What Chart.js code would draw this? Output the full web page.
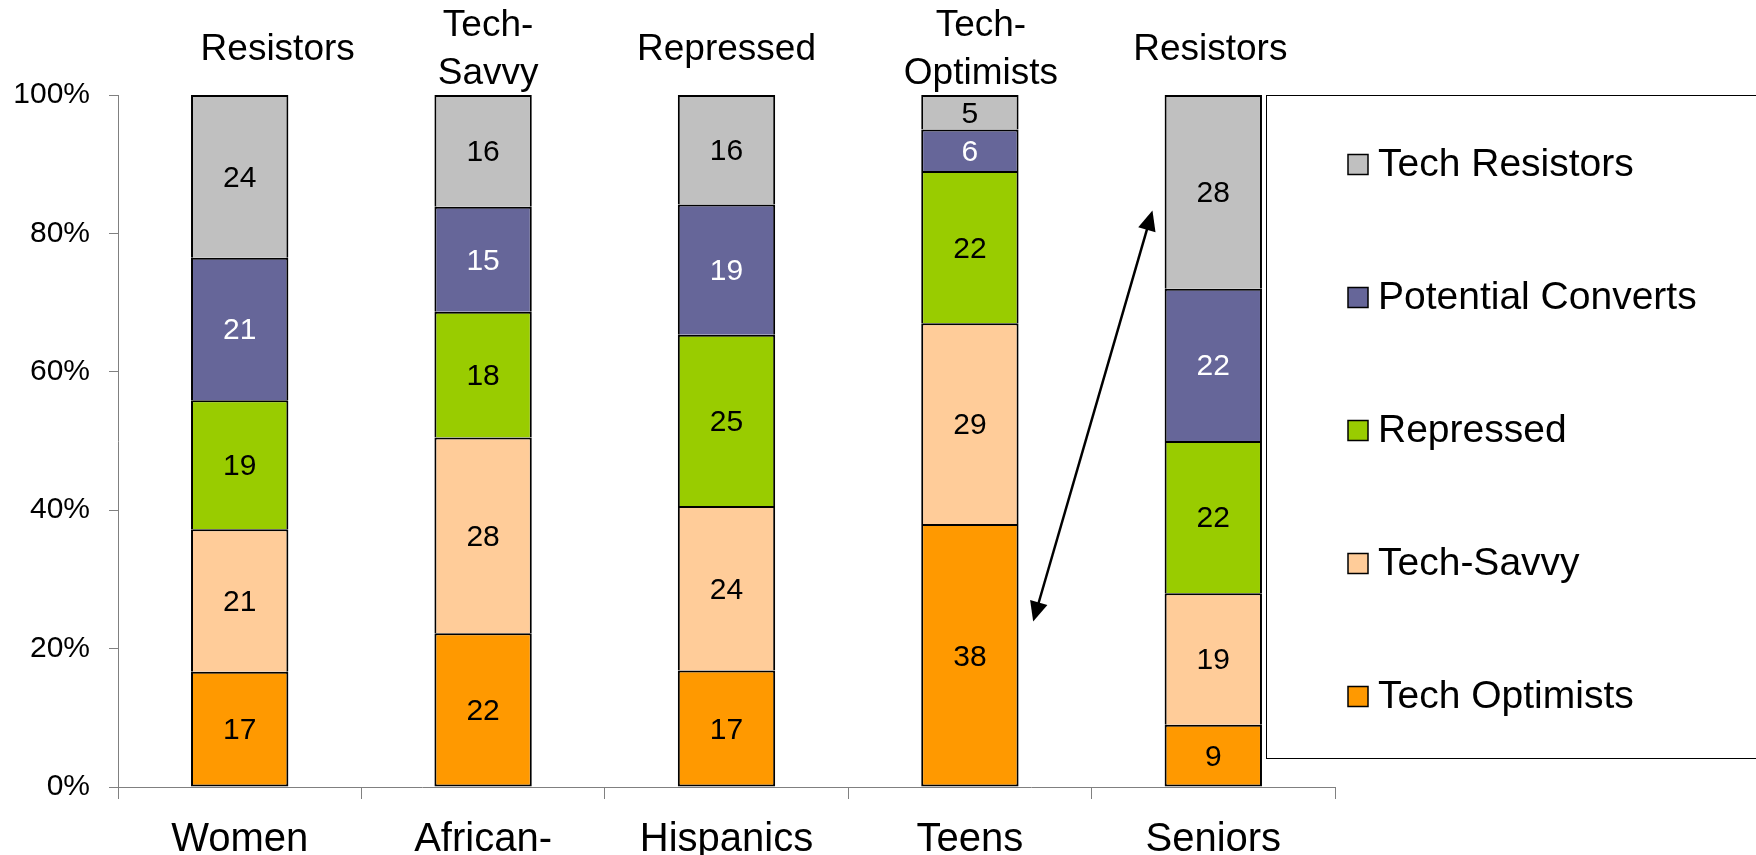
<!DOCTYPE html>
<html>
<head>
<meta charset="utf-8">
<script src="https://cdn.jsdelivr.net/npm/chart.js@4.4.1/dist/chart.umd.min.js"></script>
<style>
  html, body { margin: 0; padding: 0; background: #fff; overflow: hidden; }
  #wrap { width: 1756px; height: 855px; position: relative; }
</style>
</head>
<body>
<div id="wrap"><canvas id="segmentChart"></canvas></div>
<script>
// Groups along the bottom, dominant segment written above each bar
const groups = ["Women", ["African-", "Americans"], "Hispanics", "Teens", "Seniors"];
const dominantType = ["Resistors", ["Tech-", "Savvy"], "Repressed", ["Tech-", "Optimists"], "Resistors"];

// Segments, bottom of the stack first
const seriesNames = ["Tech Optimists", "Tech-Savvy", "Repressed", "Potential Converts", "Tech Resistors"];
const techOptimists = [17, 22, 17, 38, 9];
const techSavvy = [21, 28, 24, 29, 19];
const repressed = [19, 18, 25, 22, 22];
const potentialConverts = [21, 15, 19, 6, 22];
const techResistors = [24, 16, 16, 5, 28];

const yTicks = [0, 20, 40, 60, 80, 100];

// Arrow from Teens to Seniors: [category index, percent]
const arrowStart = [3.26, 23.9];
const arrowEnd = [3.75, 83.3];

const seriesColors = ["#FF9900", "#FFCC99", "#99CC00", "#666699", "#C0C0C0"];
const FONT = "'Liberation Sans', Arial, sans-serif";
// the headings above the bars were placed by hand, a little off centre
const headingNudge = [38, 5, 0, 11, -3];

const seriesValues = [techOptimists, techSavvy, repressed, potentialConverts, techResistors];

// 100% stacked: each column is scaled by its own total
const totals = groups.map((g, i) => seriesValues.reduce((s, arr) => s + arr[i], 0));

const datasets = seriesValues.map((vals, k) => ({
  label: seriesNames[k],
  data: vals.map((v, i) => (v / totals[i]) * 100),
  rawValues: vals,
  backgroundColor: seriesColors[k],
  borderColor: "#000",
  borderWidth: 2,
  borderSkipped: k === 0 ? false : "start",
  categoryPercentage: 1,
  barPercentage: 0.4,
}));

// Value written in the middle of every segment
const segmentLabels = {
  id: "segmentLabels",
  afterDatasetsDraw(chart) {
    const ctx = chart.ctx;
    ctx.save();
    ctx.font = "30px " + FONT;
    ctx.textAlign = "center";
    ctx.textBaseline = "middle";
    chart.data.datasets.forEach((ds, di) => {
      const meta = chart.getDatasetMeta(di);
      meta.data.forEach((bar, i) => {
        const p = bar.getProps(["x", "y", "base"], true);
        ctx.fillStyle = di === 3 ? "#fff" : "#000";
        ctx.fillText(String(ds.rawValues[i]), p.x, (p.y + p.base) / 2 + 2);
      });
    });
    ctx.restore();
  },
};

// Segment type heading over each bar, vertically centred in the top margin
const headings = {
  id: "headings",
  afterDraw(chart) {
    const ctx = chart.ctx;
    const xs = chart.scales.x;
    const lineH = 48;
    const mid = 50;
    ctx.save();
    ctx.font = "37px " + FONT;
    ctx.textAlign = "center";
    ctx.textBaseline = "middle";
    ctx.fillStyle = "#000";
    dominantType.forEach((lbl, i) => {
      const lines = Array.isArray(lbl) ? lbl : [lbl];
      const x = xs.getPixelForValue(i) + headingNudge[i];
      const y0 = mid - ((lines.length - 1) * lineH) / 2;
      lines.forEach((t, j) => ctx.fillText(t, x, y0 + j * lineH));
    });
    ctx.restore();
  },
};

// Double-headed arrow between Teens and Seniors
const arrowPlugin = {
  id: "arrowPlugin",
  afterDatasetsDraw(chart) {
    const { ctx, scales } = chart;
    const x1 = scales.x.getPixelForValue(arrowStart[0]);
    const y1 = scales.y.getPixelForValue(arrowStart[1]);
    const x2 = scales.x.getPixelForValue(arrowEnd[0]);
    const y2 = scales.y.getPixelForValue(arrowEnd[1]);
    const ang = Math.atan2(y2 - y1, x2 - x1);
    const headLen = 20;
    const headHalf = 9;

    function head(tx, ty, a) {
      ctx.beginPath();
      ctx.moveTo(tx, ty);
      ctx.lineTo(tx - headLen * Math.cos(a) + headHalf * Math.sin(a), ty - headLen * Math.sin(a) - headHalf * Math.cos(a));
      ctx.lineTo(tx - headLen * Math.cos(a) - headHalf * Math.sin(a), ty - headLen * Math.sin(a) + headHalf * Math.cos(a));
      ctx.closePath();
      ctx.fill();
    }

    ctx.save();
    ctx.strokeStyle = "#000";
    ctx.fillStyle = "#000";
    ctx.lineWidth = 2.5;
    ctx.beginPath();
    ctx.moveTo(x1 + headLen * 0.8 * Math.cos(ang), y1 + headLen * 0.8 * Math.sin(ang));
    ctx.lineTo(x2 - headLen * 0.8 * Math.cos(ang), y2 - headLen * 0.8 * Math.sin(ang));
    ctx.stroke();
    head(x2, y2, ang);
    head(x1, y1, ang + Math.PI);
    ctx.restore();
  },
};

// Boxed legend sitting over the right side of the plot
const boxLegend = {
  id: "boxLegend",
  afterDraw(chart) {
    const ctx = chart.ctx;
    const top = chart.chartArea.top;
    const left = 1266;
    const bottom = 758;
    const rowGap = 133;
    const firstRow = 164.5;
    ctx.save();
    ctx.fillStyle = "#fff";
    ctx.fillRect(left, top, 600, bottom - top);
    ctx.strokeStyle = "#000";
    ctx.lineWidth = 1;
    ctx.strokeRect(left + 0.5, top + 0.5, 600, bottom - top);
    ctx.font = "39px " + FONT;
    ctx.textAlign = "left";
    ctx.textBaseline = "middle";
    const order = chart.data.datasets.slice().reverse();
    order.forEach((ds, r) => {
      const cy = firstRow + r * rowGap;
      ctx.fillStyle = ds.backgroundColor;
      ctx.fillRect(1348, cy - 10, 20, 20);
      ctx.lineWidth = 1.5;
      ctx.strokeRect(1348, cy - 10, 20, 20);
      ctx.fillStyle = "#000";
      ctx.fillText(ds.label, 1378, cy + 1);
    });
    ctx.restore();
  },
};

const segmentCtx = document.getElementById("segmentChart");
const segmentChart = new Chart(segmentCtx.getContext("2d"), {
  type: "bar",
  data: {
    labels: groups,
    datasets: datasets,
  },
  options: {
    responsive: true,
    maintainAspectRatio: false,
    devicePixelRatio: 1,
    animation: false,
    layout: {
      padding: { left: 0, right: 421, top: 95, bottom: 0 },
    },
    plugins: {
      legend: { display: false },
      tooltip: { enabled: false },
    },
    scales: {
      x: {
        stacked: true,
        position: "bottom",
        offset: true,
        grid: {
          offset: true,
          drawOnChartArea: false,
          drawTicks: true,
          tickLength: 12,
          color: "#808080",
        },
        border: { display: true, color: "#808080", width: 1 },
        ticks: {
          color: "#000",
          font: { family: FONT, size: 40, lineHeight: 1.2 },
          padding: 17,
          maxRotation: 0,
          autoSkip: false,
        },
        afterFit(scale) {
          scale.height = 68;
        },
      },
      y: {
        stacked: true,
        min: 0,
        max: 100,
        grid: {
          drawOnChartArea: false,
          drawTicks: true,
          tickLength: 9,
          color: "#808080",
        },
        border: { display: true, color: "#808080", width: 1 },
        ticks: {
          color: "#000",
          font: { family: FONT, size: 30 },
          padding: 19,
          callback: (v) => v + "%",
        },
        afterBuildTicks(scale) {
          scale.ticks = yTicks.map((v) => ({ value: v }));
        },
        afterFit(scale) {
          scale.width = 118;
        },
      },
    },
  },
  plugins: [segmentLabels, headings, arrowPlugin, boxLegend],
});
</script>
</body>
</html>
